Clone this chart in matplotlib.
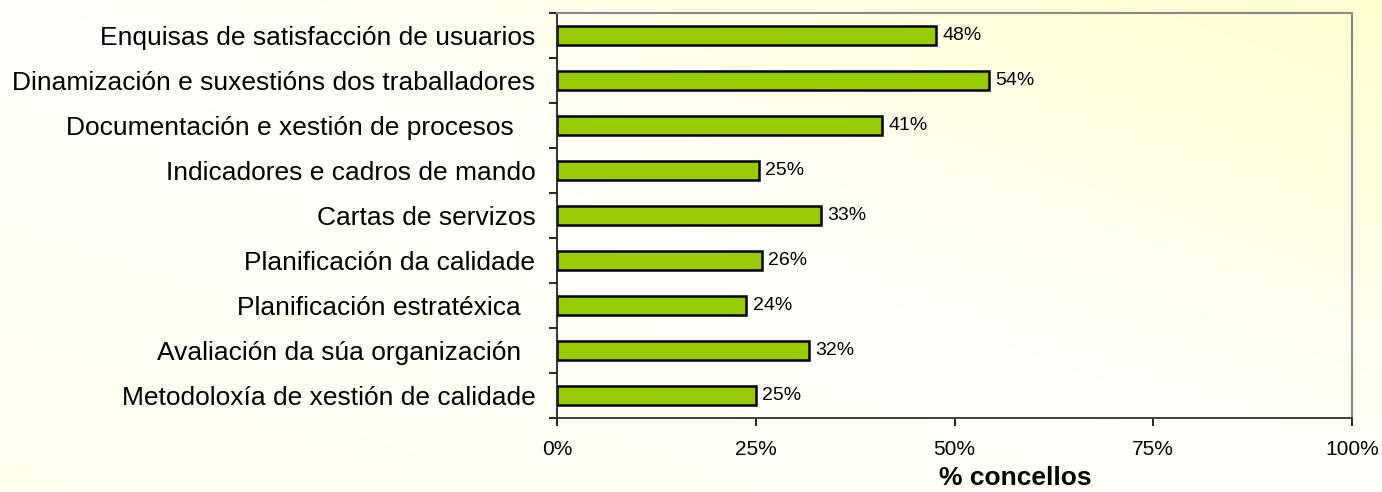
import matplotlib.pyplot as plt
import numpy as np

plt.rcParams['font.family'] = ['Liberation Sans', 'DejaVu Sans']

categories = [
    "Enquisas de satisfacción de usuarios",
    "Dinamización e suxestións dos traballadores",
    "Documentación e xestión de procesos   ",
    "Indicadores e cadros de mando",
    "Cartas de servizos",
    "Planificación da calidade",
    "Planificación estratéxica  ",
    "Avaliación da súa organización  ",
    "Metodoloxía de xestión de calidade",
]
values = [47.7, 54.3, 40.9, 25.4, 33.2, 25.8, 23.8, 31.7, 25.0]
xticks = [0, 25, 50, 75, 100]

fig = plt.figure(figsize=(13.82, 4.92), dpi=100)

# background: pale yellow towards top-right, white diagonal band, slight tint bottom-left
bg = fig.add_axes([0, 0, 1, 1], zorder=-10)
gx, gy = np.meshgrid(np.linspace(0, 1, 300), np.linspace(0, 1, 120))
d = gx + gy - 1.0
white = np.array([255, 255, 252]) / 255
yel_tr = np.array([255, 255, 208]) / 255
yel_bl = np.array([255, 255, 236]) / 255
tp = np.clip(d, 0, 1)[..., None]
tn = np.clip(-d, 0, 1)[..., None]
img = white * (1 - tp - tn) + yel_tr * tp + yel_bl * tn
bg.imshow(img, origin='lower', aspect='auto', extent=[0, 1, 0, 1])
bg.axis('off')

ax = fig.add_axes([557 / 1382, 1 - 418 / 492, 795 / 1382, 405 / 492])
ax.patch.set_alpha(0)

y = np.arange(len(categories))
ax.barh(y, values, height=0.42, color='#99CC00', edgecolor='black', linewidth=1.8)
for yi, v in zip(y, values):
    ax.text(v + 0.8, yi, f"{round(v):d}%", va='center', ha='left', fontsize=14)

ax.set_xlim(0, 100)
ax.set_ylim(len(categories) - 0.5, -0.5)
ax.set_xticks(xticks)
ax.set_xticklabels([f"{v}%" for v in xticks], fontsize=15)
ax.set_yticks(y)
ax.set_yticklabels(categories, fontsize=19)
ax.set_yticks(np.arange(len(categories) + 1) - 0.5, minor=True)
ax.tick_params(axis='y', which='major', length=0, pad=15.5)
ax.tick_params(axis='y', which='minor', length=6, width=1.2, direction='out')
ax.tick_params(axis='x', length=6, width=1.2, direction='out', pad=10)
ax.set_xlabel("% concellos", fontsize=19, fontweight='bold')
ax.xaxis.set_label_coords(0.576, -0.148, transform=ax.transAxes)
ax.xaxis.label.set_va('center')

ax.spines['left'].set_color('#222222')
ax.spines['bottom'].set_color('#333333')
ax.spines['left'].set_linewidth(1.3)
ax.spines['bottom'].set_linewidth(1.3)
ax.spines['top'].set_color('#888888')
ax.spines['right'].set_color('#888888')
ax.spines['top'].set_linewidth(1.5)
ax.spines['right'].set_linewidth(1.5)

fig.savefig('out.png', dpi=100)
